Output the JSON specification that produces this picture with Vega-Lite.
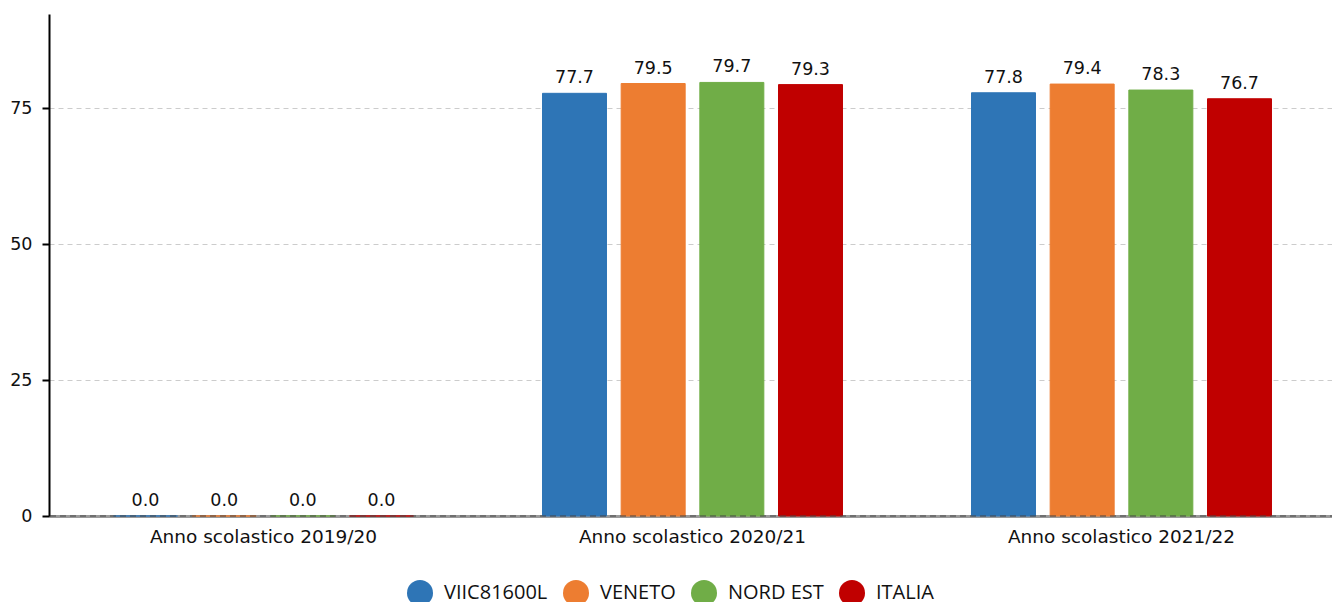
{
  "$schema": "https://vega.github.io/schema/vega-lite/v6.json",
  "width": 1287,
  "height": 502,
  "autosize": {"type": "none"},
  "padding": {"left": 49, "top": 14, "right": 0, "bottom": 86},
  "background": "white",
  "config": {"view": {"stroke": null}, "font": "DejaVu Sans"},
  "data": {"values": [
    {"anno": "Anno scolastico 2019/20", "serie": "VIIC81600L", "valore": 0.0},
    {"anno": "Anno scolastico 2019/20", "serie": "VENETO", "valore": 0.0},
    {"anno": "Anno scolastico 2019/20", "serie": "NORD EST", "valore": 0.0},
    {"anno": "Anno scolastico 2019/20", "serie": "ITALIA", "valore": 0.0},
    {"anno": "Anno scolastico 2020/21", "serie": "VIIC81600L", "valore": 77.7},
    {"anno": "Anno scolastico 2020/21", "serie": "VENETO", "valore": 79.5},
    {"anno": "Anno scolastico 2020/21", "serie": "NORD EST", "valore": 79.7},
    {"anno": "Anno scolastico 2020/21", "serie": "ITALIA", "valore": 79.3},
    {"anno": "Anno scolastico 2021/22", "serie": "VIIC81600L", "valore": 77.8},
    {"anno": "Anno scolastico 2021/22", "serie": "VENETO", "valore": 79.4},
    {"anno": "Anno scolastico 2021/22", "serie": "NORD EST", "valore": 78.3},
    {"anno": "Anno scolastico 2021/22", "serie": "ITALIA", "valore": 76.7}
  ]},
  "layer": [
    {
      "mark": {"type": "bar", "strokeWidth": 1},
      "encoding": {
        "x": {"field": "anno", "type": "nominal", "sort": null,
          "scale": {"paddingInner": 0, "paddingOuter": 0},
          "axis": {"title": null, "labelAngle": 0, "ticks": false, "domainColor": "#9a9a9a", "domainWidth": 3,
            "labelFont": "DejaVu Sans", "labelFontSize": 18.5, "labelColor": "#111", "labelPadding": 11, "labelLimit": 0, "grid": false}},
        "xOffset": {"field": "serie", "type": "nominal", "sort": ["VIIC81600L", "VENETO", "NORD EST", "ITALIA"],
          "scale": {"paddingInner": 0.1865, "paddingOuter": 0.82}},
        "y": {"field": "valore", "type": "quantitative",
          "scale": {"domain": [0, 92.28], "nice": false},
          "axis": {"title": null, "values": [0, 25, 50, 75], "domainColor": "#000", "domainWidth": 2,
            "tickColor": "#000", "tickWidth": 2, "tickSize": 7, "labelFont": "DejaVu Sans", "labelFontSize": 17.5, "labelColor": "#111",
            "labelPadding": 10, "grid": true, "gridDash": [5, 4], "gridColor": "#cccccc", "gridWidth": 1}},
        "color": {"field": "serie", "type": "nominal",
          "scale": {"domain": ["VIIC81600L", "VENETO", "NORD EST", "ITALIA"], "range": ["#2E75B6", "#ED7D31", "#70AD47", "#C00000"]},
          "legend": {"title": null, "orient": "none", "legendX": 358, "legendY": 566, "direction": "horizontal",
            "symbolType": "circle", "symbolSize": 676, "symbolStrokeWidth": 0, "labelFont": "Open Sans",
            "labelFontSize": 20, "labelColor": "#111", "labelOffset": 11, "columnPadding": 15}},
        "stroke": {"field": "serie", "type": "nominal",
          "scale": {"domain": ["VIIC81600L", "VENETO", "NORD EST", "ITALIA"], "range": ["#2E75B6", "#ED7D31", "#70AD47", "#C00000"]},
          "legend": null}
      }
    },
    {
      "mark": {"type": "text", "baseline": "bottom", "dy": -6, "font": "DejaVu Sans", "fontSize": 17.5, "color": "#111"},
      "encoding": {
        "x": {"field": "anno", "type": "nominal", "sort": null},
        "xOffset": {"field": "serie", "type": "nominal", "sort": ["VIIC81600L", "VENETO", "NORD EST", "ITALIA"]},
        "y": {"field": "valore", "type": "quantitative"},
        "text": {"field": "valore", "type": "quantitative", "format": ".1f"}
      }
    },
    {
      "data": {"values": [{"zero": 0}]},
      "mark": {"type": "rule", "strokeDash": [6, 4], "color": "#444", "strokeWidth": 1},
      "encoding": {"y": {"field": "zero", "type": "quantitative"}}
    }
  ]
}
